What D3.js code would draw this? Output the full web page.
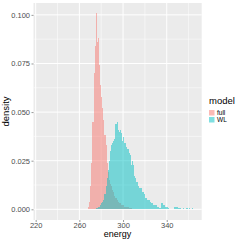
<!DOCTYPE html>
<html>
<head>
<meta charset="utf-8">
<script src="https://cdn.jsdelivr.net/npm/d3@7"></script>
<style>
  html, body { margin: 0; padding: 0; background: #fff; }
  text { font-family: "Liberation Sans", Arial, sans-serif; }
</style>
</head>
<body>
<div id="chart"></div>
<script>
// histogram bins (left edge, binwidth 1) and densities
const fullEnergy = [268, 269, 270, 271, 272, 273, 274, 275, 276, 277, 278, 279, 280, 281, 282, 283, 284, 285, 286, 287,
  288, 289, 290, 291, 292, 293, 294, 295, 296, 297, 298, 299, 300, 301, 302, 303, 304, 305, 306, 307, 308, 309, 310];
const fullDensity = [0.001, 0.004, 0.012, 0.024, 0.045, 0.070, 0.084, 0.101, 0.086, 0.088, 0.074, 0.064, 0.058, 0.052, 0.046, 0.038, 0.033, 0.024, 0.019, 0.015,
  0.013, 0.012, 0.010, 0.009, 0.007, 0.006, 0.005, 0.004, 0.003, 0.003, 0.002, 0.002, 0.002, 0.001, 0.001, 0.001, 0.001, 0.0008, 0.0006, 0.0005, 0.0004, 0.0003, 0.0003];

const wlEnergy = [274, 275, 276, 277, 278, 279, 280, 281, 282, 283, 284, 285, 286, 287, 288, 289, 290, 291, 292, 293,
  294, 295, 296, 297, 298, 299, 300, 301, 302, 303, 304, 305, 306, 307, 308, 309, 310, 311, 312, 313,
  314, 315, 316, 317, 318, 319, 320, 321, 322, 323, 324, 325, 326, 327, 328, 329, 330, 331, 332, 333,
  334, 335, 336, 337, 338, 339, 340, 341, 347, 348, 349, 350, 351, 352, 355, 358, 360, 363];
const wlDensity = [0.0003, 0.0005, 0.0005, 0.001, 0.001, 0.002, 0.003, 0.004, 0.005, 0.008, 0.012, 0.016, 0.020, 0.025, 0.030, 0.033, 0.034, 0.035, 0.036, 0.044,
  0.045, 0.041, 0.040, 0.041, 0.039, 0.035, 0.037, 0.034, 0.034, 0.032, 0.031, 0.029, 0.028, 0.023, 0.025, 0.023, 0.017, 0.016, 0.014, 0.014,
  0.012, 0.011, 0.011, 0.009, 0.009, 0.008, 0.006, 0.006, 0.005, 0.005, 0.005, 0.004, 0.003, 0.002, 0.002, 0.002, 0.002, 0.001, 0.001, 0.0007,
  0.0005, 0.003, 0.003, 0.002, 0.001, 0.001, 0.001, 0.0005, 0.001, 0.0012, 0.001, 0.0007, 0.0005, 0.0005, 0.0005, 0.0005, 0.0005, 0.0005];

const binWidth = 1;
const xTicks = [220, 260, 300, 340];
const xMinor = [240, 280, 320, 360];
const yTicks = [0, 0.025, 0.05, 0.075, 0.1];
const models = ["full", "WL"];
const colors = ["#F8766D", "#00BFC4"];

const width = 241, height = 241;
const panel = { left: 33.5, top: 3, right: 201.7, bottom: 220 };

const svg = d3.select("#chart").append("svg")
  .attr("width", width)
  .attr("height", height);

const x = d3.scaleLinear().domain([218, 372]).range([panel.left, panel.right]);
const y = d3.scaleLinear().domain([-0.0055, 0.1061]).range([panel.bottom, panel.top]);

// panel background + grid
svg.append("rect")
  .attr("x", panel.left).attr("y", panel.top)
  .attr("width", panel.right - panel.left).attr("height", panel.bottom - panel.top)
  .attr("fill", "#EBEBEB");

const yMinor = yTicks.slice(0, -1).map((d, i) => (d + yTicks[i + 1]) / 2);

svg.append("g").selectAll("line").data(xMinor).enter().append("line")
  .attr("x1", d => x(d)).attr("x2", d => x(d))
  .attr("y1", panel.top).attr("y2", panel.bottom)
  .attr("stroke", "#fff").attr("stroke-width", 0.5);
svg.append("g").selectAll("line").data(yMinor).enter().append("line")
  .attr("x1", panel.left).attr("x2", panel.right)
  .attr("y1", d => y(d)).attr("y2", d => y(d))
  .attr("stroke", "#fff").attr("stroke-width", 0.5);
svg.append("g").selectAll("line").data(xTicks).enter().append("line")
  .attr("x1", d => x(d)).attr("x2", d => x(d))
  .attr("y1", panel.top).attr("y2", panel.bottom)
  .attr("stroke", "#fff").attr("stroke-width", 1);
svg.append("g").selectAll("line").data(yTicks).enter().append("line")
  .attr("x1", panel.left).attr("x2", panel.right)
  .attr("y1", d => y(d)).attr("y2", d => y(d))
  .attr("stroke", "#fff").attr("stroke-width", 1);

// histograms
const series = [
  { energy: fullEnergy, density: fullDensity, color: colors[0] },
  { energy: wlEnergy, density: wlDensity, color: colors[1] }
];
series.forEach(s => {
  svg.append("g").selectAll("rect")
    .data(s.energy.map((e, i) => [e, s.density[i]]))
    .enter().append("rect")
    .attr("x", d => x(d[0]))
    .attr("width", d => x(d[0] + binWidth) - x(d[0]))
    .attr("y", d => y(d[1]))
    .attr("height", d => y(0) - y(d[1]))
    .attr("fill", s.color)
    .attr("fill-opacity", 0.5)
    .attr("shape-rendering", "crispEdges");
});

// axes
const xAxis = svg.append("g")
  .attr("transform", `translate(0,${panel.bottom})`)
  .call(d3.axisBottom(x).tickValues(xTicks).tickSize(2).tickPadding(0.5).tickFormat(d3.format("d")));
const yAxis = svg.append("g")
  .attr("transform", `translate(${panel.left},0)`)
  .call(d3.axisLeft(y).tickValues(yTicks).tickSize(2).tickPadding(1.5).tickFormat(d3.format(".3f")));

[xAxis, yAxis].forEach(a => {
  a.select(".domain").remove();
  a.selectAll(".tick line").attr("stroke", "#333").attr("stroke-width", 0.5);
  a.selectAll(".tick text").attr("fill", "#4D4D4D").style("font-size", "7.5px")
    .style("font-family", "'Liberation Sans', Arial, sans-serif");
});

// axis titles
svg.append("text")
  .attr("x", (panel.left + panel.right) / 2).attr("y", 237)
  .attr("text-anchor", "middle")
  .style("font-size", "9px")
  .text("energy");
svg.append("text")
  .attr("transform", `translate(9,${(panel.top + panel.bottom) / 2}) rotate(-90)`)
  .attr("text-anchor", "middle")
  .style("font-size", "9.5px")
  .text("density");

// legend
const legend = svg.append("g").attr("transform", "translate(209,0)");
legend.append("text").attr("x", 0).attr("y", 104).style("font-size", "9.5px").text("model");
models.forEach((m, i) => {
  legend.append("rect")
    .attr("x", 0).attr("y", 110 + i * 7)
    .attr("width", 5.5).attr("height", 5.5)
    .attr("fill", colors[i]).attr("fill-opacity", 0.5);
  legend.append("text")
    .attr("x", 8).attr("y", 115 + i * 7)
    .style("font-size", "6.5px")
    .text(m);
});
</script>
</body>
</html>
